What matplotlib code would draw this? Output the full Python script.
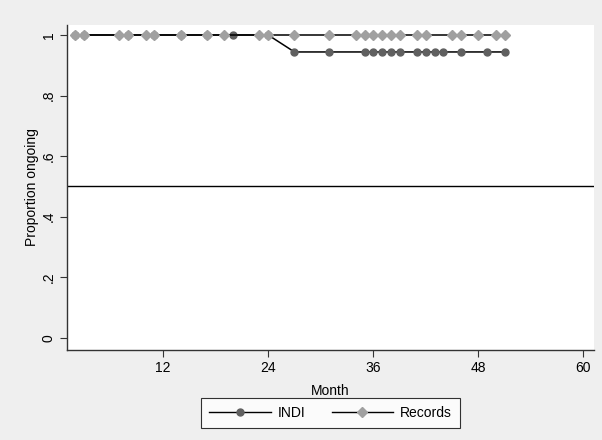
import matplotlib
matplotlib.use("Agg")
import matplotlib.pyplot as plt
from matplotlib.lines import Line2D

plt.rcParams['font.family'] = ['Liberation Sans', 'DejaVu Sans']

# Data
indi_month = [2, 3, 8, 11, 14, 17, 20, 24, 27, 31, 35, 36, 37, 38, 39,
              41, 42, 43, 44, 46, 49, 51]
indi_prop = [1, 1, 1, 1, 1, 1, 1, 1, 0.944, 0.944, 0.944, 0.944, 0.944, 0.944, 0.944,
             0.944, 0.944, 0.944, 0.944, 0.944, 0.944, 0.944]
rec_month = [2, 3, 7, 8, 10, 11, 14, 17, 19, 23, 24, 27, 31, 34, 35, 36, 37, 38, 39,
             41, 42, 45, 46, 48, 50, 51]
rec_prop = [1] * len(rec_month)
x_ticks = [12, 24, 36, 48, 60]
y_ticks = [0, 0.2, 0.4, 0.6, 0.8, 1]
y_labels = ['0', '.2', '.4', '.6', '.8', '1']
ref_line = 0.5

fig = plt.figure(figsize=(6.02, 4.40), dpi=100, facecolor='#EFEFEF')
ax = fig.add_axes([66.7/602, 1-350/440, (594-66.7)/602, (350-25)/440])
ax.set_facecolor('white')

ax.plot(indi_month, indi_prop, color='black', lw=1.1, marker='o', ms=5,
        mfc='#606060', mec='#606060', zorder=3)
ax.plot(rec_month, rec_prop, color='black', lw=1.1, marker='D', ms=5.5,
        mfc='#A0A0A0', mec='#A0A0A0', zorder=4)
ax.axhline(ref_line, color='black', lw=1.0, zorder=2)

ax.set_xlim(1.0, 61.2)
ax.set_ylim(-0.04, 1.033)
ax.set_xticks(x_ticks)
ax.set_xticklabels([str(t) for t in x_ticks], fontsize=10)
ax.set_yticks(y_ticks)
ax.set_yticklabels(y_labels, fontsize=10, rotation=90, va='center')
ax.set_xlabel('Month', fontsize=10)
ax.set_ylabel('Proportion ongoing', fontsize=10)
ax.xaxis.set_label_coords(0.5, -0.105)
ax.yaxis.set_label_coords(-0.052, 0.5)
for s in ['top', 'right']:
    ax.spines[s].set_visible(False)
for s in ['left', 'bottom']:
    ax.spines[s].set_color('#333333')
    ax.spines[s].set_linewidth(1.0)
ax.tick_params(direction='out', length=5, width=0.8, color='#333333', pad=3)

handles = [Line2D([], [], color='black', lw=1.0, marker='o', ms=5, mfc='#606060', mec='#606060'),
           Line2D([], [], color='black', lw=1.0, marker='D', ms=5, mfc='#A0A0A0', mec='#A0A0A0')]
leg = fig.legend(handles, ['INDI', 'Records'], loc='center', bbox_to_anchor=(330.5/602, 1-413/440),
                 ncol=2, frameon=True, fancybox=False, edgecolor='black', facecolor='white',
                 fontsize=10, handlelength=4.4, columnspacing=1.9, handletextpad=0.5,
                 borderpad=0.6)
leg.get_frame().set_linewidth(0.8)

fig.savefig('out.png', dpi=100, facecolor=fig.get_facecolor())
